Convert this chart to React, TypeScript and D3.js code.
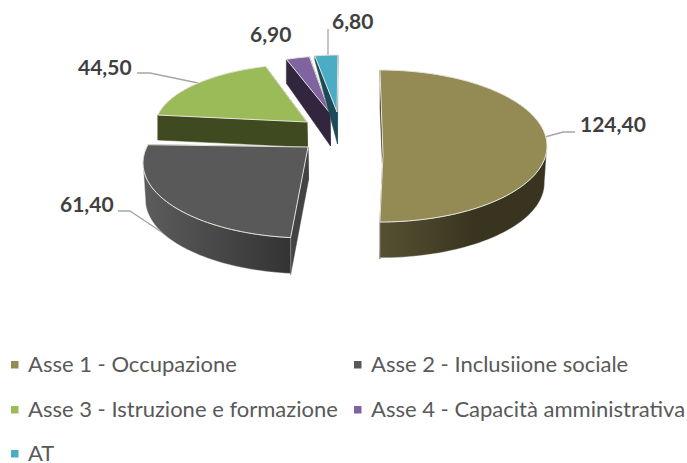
import React from "react";
import * as d3 from "d3";

const categories = ["Asse 1 - Occupazione", "Asse 2 - Inclusiione sociale", "Asse 3 - Istruzione e formazione", "Asse 4 - Capacità amministrativa", "AT"];
const values = [124.4, 61.4, 44.5, 6.9, 6.8];
const valueLabels = ["124,40", "61,40", "44,50", "6,90", "6,80"];

const topColors = ["#948a54", "#595959", "#9bbb59", "#8064a2", "#4bacc6"];
const wallLight = ["#565032", "#5c5c5c", "#3f4a20", "#32263f", "#1c4a58"];
const wallDark = ["#39341f", "#333333", "#3f4a20", "#32263f", "#1c4a58"];
const sideColors = ["#39341f", "#434343", "#3f4a20", "#32263f", "#1c4a58"];

// projection of each exploded slice: apex, rim ellipse, angular correction, extrusion
const apexes: [number, number][] = [[383, 155], [308, 147], [307, 122], [330, 113], [337, 112]];
const centers: [number, number][] = [[380, 146], [308, 163], [307, 127], [330, 113], [337, 112]];
const radii: [number, number][] = [[167, 76], [165, 75], [152, 63], [130, 57], [130, 57]];
const angleFix: [number, number][] = [[0, -3.5], [2.5, 10], [6.8, 4.4], [0.6, 0.9], [0.2, 0.4]];
const depths: [number, number][] = [[37, 37], [33, 37], [25, 25], [33, 24], [32, 4]];
const drawOrder = [2, 3, 4, 1, 0];

const leaders: [number, number][][] = [
  [[545, 137], [563, 132], [575, 132]],
  [[118, 211], [130, 211], [172, 239]],
  [[137, 73], [150, 73], [198, 83]],
  [],
  [[328, 29], [328, 55]],
];
const labelPos: [number, number][] = [[580, 132], [60, 212], [78, 75], [250, 42], [332, 29]];

const legendPos: [number, number][] = [[11, 365], [354, 365], [11, 410], [354, 410], [11, 454]];

const rad = Math.PI / 180;
const pieGen = d3.pie<number>().sort(null);
const arcs = pieGen(values);
const lineGen = d3.line();

function rimPoint(i: number, deg: number, drop = 0, shrink = 1): [number, number] {
  const [cx, cy] = centers[i];
  const [rx, ry] = radii[i];
  return [cx + rx * shrink * Math.sin(deg * rad), cy - ry * shrink * Math.cos(deg * rad) + drop];
}

function rimRange(i: number): [number, number] {
  return [
    arcs[i].startAngle / rad + angleFix[i][0],
    arcs[i].endAngle / rad + angleFix[i][1],
  ];
}

function sample(a: number, b: number): number[] {
  const n = Math.max(2, Math.ceil(Math.abs(b - a) / 2));
  return d3.range(n + 1).map((k) => a + ((b - a) * k) / n);
}

export default function App() {
  const renderSlice = (i: number) => {
    const [a0, a1] = rimRange(i);
    const apex = apexes[i];
    const [dApex, dRim] = depths[i];
    const top: [number, number][] = [apex, ...sample(a0, a1).map((d) => rimPoint(i, d))];
    const parts: React.ReactNode[] = [];

    // flat cut faces
    const startA = rimPoint(i, a0);
    const startB = rimPoint(i, a0, dRim);
    const endA = rimPoint(i, a1);
    const endB = rimPoint(i, a1, dRim);
    const apexB: [number, number] = [apex[0] + 0.5, apex[1] + dApex];
    parts.push(
      <path key="e" d={lineGen([apex, endA, endB, apexB])! + "Z"} fill={sideColors[i]} stroke={sideColors[i]} strokeWidth={0.5} />
    );
    parts.push(
      <path key="s" d={lineGen([apex, startA, startB, apexB])! + "Z"} fill={sideColors[i]} stroke={sideColors[i]} strokeWidth={0.5} />
    );

    // curved outer wall (only the near half of the ellipse)
    const w0 = Math.max(a0, 90);
    const w1 = Math.min(a1, 270);
    if (w1 > w0) {
      const upper = sample(w0, w1).map((d) => rimPoint(i, d));
      const lower = sample(w0, w1).map((d) => rimPoint(i, d, dRim, 0.985)).reverse();
      parts.push(
        <path key="w" d={lineGen([...upper, ...lower])! + "Z"} fill={`url(#wall${i})`} stroke="#e6e6e6" strokeWidth={0.4} />
      );
    }
    parts.push(
      <path key="t" d={lineGen(top)! + "Z"} fill={topColors[i]} stroke="#e4e4da" strokeWidth={1} strokeLinejoin="round" />
    );
    return <g key={i}>{parts}</g>;
  };

  return (
    <svg width={687} height={463} style={{ position: "absolute", left: 0, top: 0, display: "block", background: "#fff" }}>
      <defs>
        <linearGradient id="wall0" gradientUnits="userSpaceOnUse" x1={382} x2={475} y1={0} y2={0}>
          <stop offset="0" stopColor={wallLight[0]} />
          <stop offset="1" stopColor={wallDark[0]} />
        </linearGradient>
        <linearGradient id="wall1" gradientUnits="userSpaceOnUse" x1={145} x2={292} y1={0} y2={0}>
          <stop offset="0" stopColor={wallLight[1]} />
          <stop offset="1" stopColor={wallDark[1]} />
        </linearGradient>
      </defs>

      {leaders.map((pts, i) =>
        pts.length ? <path key={i} d={lineGen(pts)!} fill="none" stroke="#a6a6a6" strokeWidth={1.3} /> : null
      )}

      {drawOrder.map(renderSlice)}

      {valueLabels.map((t, i) => (
        <text key={t} x={labelPos[i][0]} y={labelPos[i][1]} fontFamily="Lato" fontWeight={700} fontSize={21} fill="#404040">
          {t}
        </text>
      ))}

      {categories.map((c, i) => (
        <g key={c}>
          <rect x={legendPos[i][0]} y={legendPos[i][1] - 4} width={7.5} height={7.5} fill={topColors[i]} />
          <text x={legendPos[i][0] + 17} y={legendPos[i][1] + 7} fontFamily="Lato" fontSize={22} fill="#595959">
            {c}
          </text>
        </g>
      ))}
    </svg>
  );
}
